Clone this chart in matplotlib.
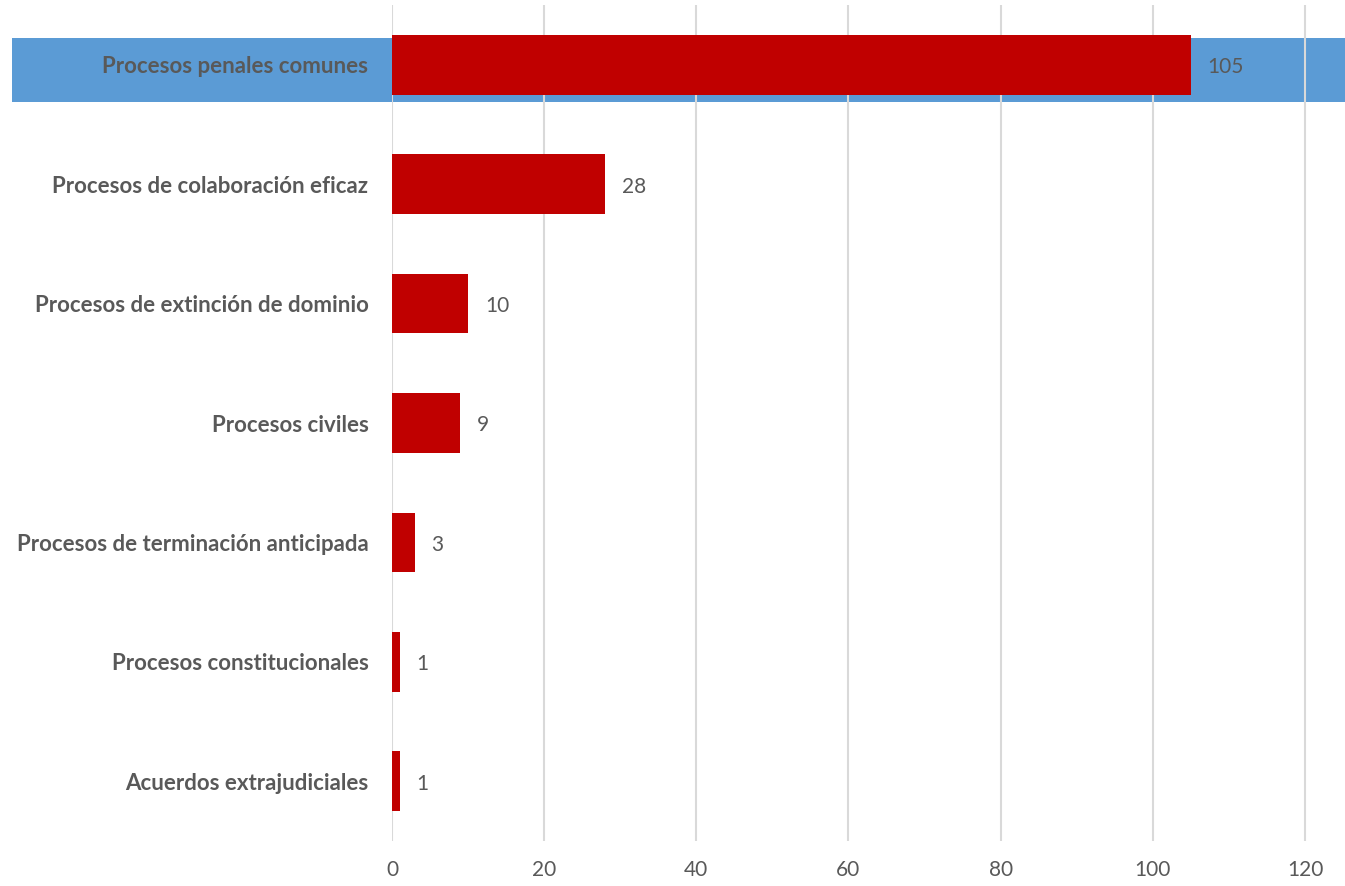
import matplotlib.pyplot as plt
from matplotlib.patches import Rectangle
from matplotlib.transforms import blended_transform_factory

plt.rcParams['font.family'] = ['Lato', 'DejaVu Sans']

# Data
categories = ["Procesos penales comunes", "Procesos de colaboración eficaz",
              "Procesos de extinción de dominio", "Procesos civiles",
              "Procesos de terminación anticipada", "Procesos constitucionales",
              "Acuerdos extrajudiciales"]
values = [105, 28, 10, 9, 3, 1, 1]
xticks = [0, 20, 40, 60, 80, 100, 120]

TEXT = "#595959"
RED = "#C00000"
BLUE = "#5B9BD5"

fig = plt.figure(figsize=(13.45, 8.86), dpi=100)
ax = fig.add_axes([392 / 1345, 1 - 841 / 886, (1343 - 392) / 1345, 836 / 886])

ypos = list(range(len(categories)))
ax.barh(ypos, values, height=0.5, color=RED, zorder=3)

# highlight band behind the first row, spanning the figure width
trans = blended_transform_factory(fig.transFigure, ax.transData)
band = Rectangle((12 / 1345, -0.226), 1 - 12 / 1345, 0.536, transform=trans,
                 facecolor=BLUE, edgecolor="none", zorder=0, clip_on=False)
ax.add_patch(band)

for y, v in zip(ypos, values):
    ax.text(v + 2.2, y + 0.02, str(v), va="center", ha="left", fontsize=15, color=TEXT, zorder=4)

ax.set_xlim(0, 125)
ax.set_ylim(6.5, -0.5)
ax.set_xticks(xticks)
ax.set_xticklabels([str(t) for t in xticks], fontsize=15, color=TEXT)
ax.set_yticks(ypos)
ax.set_yticklabels(categories, fontsize=16, fontweight="bold", color=TEXT)
ax.tick_params(length=0)
ax.tick_params(axis="x", pad=14)
ax.tick_params(axis="y", pad=17)
ax.grid(axis="x", color="#D9D9D9", linewidth=1.5, zorder=1)
ax.set_axisbelow(False)
for s in ax.spines.values():
    s.set_visible(False)
ax.patch.set_alpha(0)

fig.savefig("out.png", dpi=100)
